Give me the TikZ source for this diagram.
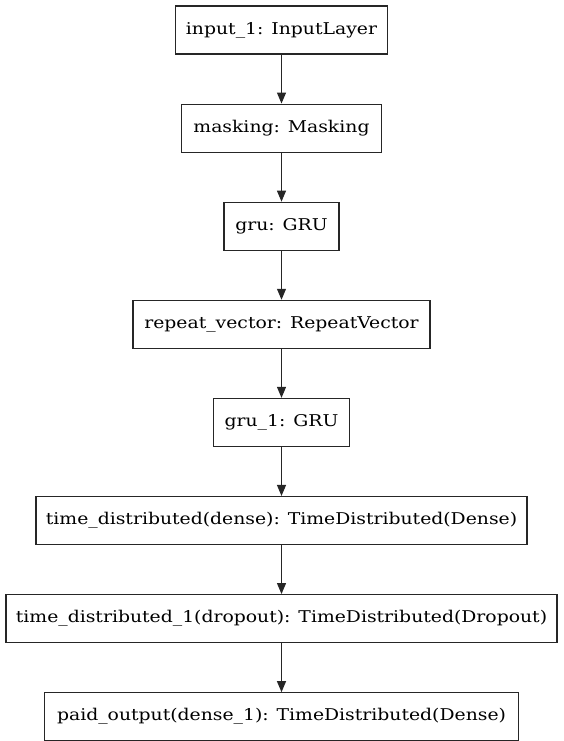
\documentclass[tikz,border=0pt]{standalone}
\usepackage{fontspec}
\setmainfont[FakeStretch=1.16]{DejaVu Serif}
\usetikzlibrary{arrows.meta, positioning}
\tikzset{
  layer/.style={draw=black!85, line width=1.1pt, minimum height=48pt, inner sep=0pt,
                font=\fontsize{16.2}{19}\selectfont},
  arr/.style={-{Triangle[length=11pt, width=9pt]}, line width=1.1pt, draw=black!85},
}
\begin{document}
\begin{tikzpicture}[node distance=49pt]
\useasboundingbox (0pt,0pt) rectangle (564pt,-741pt);

% layers of the model, top to bottom
\node[layer, minimum width=212pt] (inp) at (281.5pt,-30pt) {input\_1: InputLayer};
\node[layer, minimum width=200pt, below=of inp] (mask) {masking: Masking};
\node[layer, minimum width=115pt, below=of mask] (gru) {gru: GRU};
\node[layer, minimum width=297pt, below=of gru] (rep) {repeat\_vector: RepeatVector};
\node[layer, minimum width=136pt, below=of rep] (gruone) {gru\_1: GRU};
\node[layer, minimum width=491pt, below=of gruone] (tdense) {time\_distributed(dense): TimeDistributed(Dense)};
\node[layer, minimum width=551pt, below=of tdense] (tdrop) {time\_distributed\_1(dropout): TimeDistributed(Dropout)};
\node[layer, minimum width=474pt, below=of tdrop] (out) {paid\_output(dense\_1): TimeDistributed(Dense)};

\draw[arr] (inp) -- (mask);
\draw[arr] (mask) -- (gru);
\draw[arr] (gru) -- (rep);
\draw[arr] (rep) -- (gruone);
\draw[arr] (gruone) -- (tdense);
\draw[arr] (tdense) -- (tdrop);
\draw[arr] (tdrop) -- (out);

\end{tikzpicture}
\end{document}
